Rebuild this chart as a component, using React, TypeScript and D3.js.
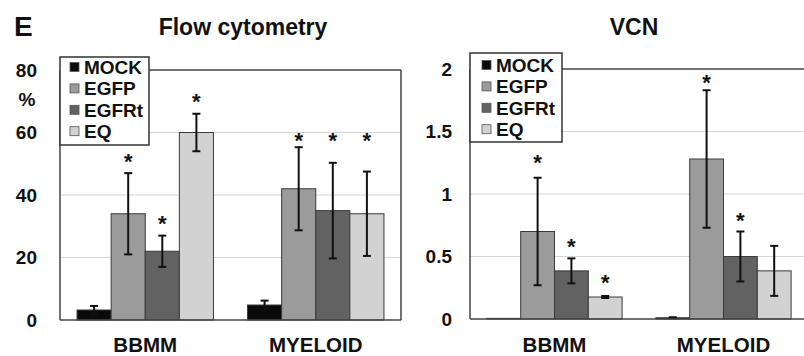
import React from 'react';
import { scaleBand, scaleLinear } from 'd3';

const categories = ['BBMM', 'MYELOID'];
const series = ['MOCK', 'EGFP', 'EGFRt', 'EQ'];
const colors = ['#0a0a0a', '#9b9b9b', '#626262', '#d2d2d2'];

// rows = series, cols = categories
const flowMeans = [[3.2, 4.8], [34, 42], [22, 35], [60, 34]];
const flowErrors = [[1.3, 1.4], [13, 13.3], [5, 15.3], [6, 13.5]];
const flowStars = [[null, null], [52.2, 58.9], [32.6, 58.9], [71.4, 58.9]];
const flowTicks = [0, 20, 40, 60, 80];

const vcnMeans = [[0.005, 0.01], [0.7, 1.28], [0.385, 0.5], [0.176, 0.385]];
const vcnErrors = [[0, 0.004], [0.43, 0.55], [0.1, 0.2], [0.008, 0.2]];
const vcnStars = [[null, null], [1.296, 1.93], [0.618, 0.832], [0.333, null]];
const vcnTicks = [0, 0.5, 1, 1.5, 2];

const font = '"Liberation Sans", Arial, sans-serif';

interface PanelProps {
  title: string
  titleX: number
  x0: number
  x1: number
  yBottom: number
  yTop: number
  domainMax: number
  ticks: number[]
  means: number[][]
  errors: number[][]
  stars: (number | null)[][]
  legendBox: { x: number, y: number, w: number, h: number, swatchX: number, textX: number, row0: number }
  labelGap: number
  rightBorder: boolean
}

const Panel: React.FC<PanelProps> = (p) => {
  const y = scaleLinear().domain([0, p.domainMax]).range([p.yBottom, p.yTop]);
  const x = scaleBand().domain(categories).range([p.x0, p.x1]).padding(0);
  const bw = x.bandwidth();
  const inner = scaleBand().domain(series).range([bw * 0.1, bw * 0.9]).padding(0);
  const lg = p.legendBox;
  const rowH = 21.4;

  return (
    <g>
      {p.ticks.map((t) => (
        <g key={t}>
          {t > 0 && t < p.domainMax && (
            <line x1={p.x0} x2={p.x1} y1={y(t)} y2={y(t)} stroke="#d6d6d6" strokeWidth={1.2} />
          )}
          <text x={p.x0 - p.labelGap} y={y(t)} dy="0.36em" textAnchor="end"
            fontSize={19} fontWeight="bold" fontFamily={font} fill="#111">{t}</text>
        </g>
      ))}
      {/* plot frame */}
      <line x1={p.x0} x2={p.x1} y1={y(p.domainMax)} y2={y(p.domainMax)} stroke="#444" strokeWidth={1.5} />
      <line x1={p.x0} x2={p.x0} y1={y(p.domainMax)} y2={y(0)} stroke="#444" strokeWidth={1.5} />
      {p.rightBorder && <line x1={p.x1} x2={p.x1} y1={y(p.domainMax)} y2={y(0)} stroke="#444" strokeWidth={1.5} />}

      {categories.map((c, ci) => (
        <g key={c} transform={`translate(${x(c)},0)`}>
          {series.map((s, si) => {
            const v = p.means[si][ci];
            const e = p.errors[si][ci];
            const bx = inner(s)!;
            const cx = bx + inner.bandwidth() / 2;
            const star = p.stars[si][ci];
            return (
              <g key={s}>
                <rect x={bx} y={y(v)} width={inner.bandwidth()} height={y(0) - y(v)}
                  fill={colors[si]} stroke="#3a3a3a" strokeWidth={1} />
                {e > 0 && (
                  <g stroke="#111" strokeWidth={2}>
                    <line x1={cx} x2={cx} y1={y(v + e)} y2={y(Math.max(0, v - e))} />
                    <line x1={cx - 4} x2={cx + 4} y1={y(v + e)} y2={y(v + e)} />
                    <line x1={cx - 4} x2={cx + 4} y1={y(Math.max(0, v - e))} y2={y(Math.max(0, v - e))} />
                  </g>
                )}
                {star !== null && (
                  <text x={cx} y={y(star) + 12.5} textAnchor="middle" fontSize={22} fontWeight="bold"
                    fontFamily={font} fill="#111">*</text>
                )}
              </g>
            );
          })}
          <text x={bw / 2} y={352} textAnchor="middle" fontSize={20.5} fontWeight="bold"
            fontFamily={font} fill="#111">{c}</text>
        </g>
      ))}
      <line x1={p.x0} x2={p.x1} y1={y(0)} y2={y(0)} stroke="#444" strokeWidth={1.5} />

      {/* legend */}
      <rect x={lg.x} y={lg.y} width={lg.w} height={lg.h} fill="#fff" stroke="#333" strokeWidth={1.5} />
      {series.map((s, si) => {
        const cy = lg.row0 + si * rowH;
        return (
          <g key={s}>
            <rect x={lg.swatchX} y={cy - 4.5} width={9} height={9} fill={colors[si]} stroke="#555" strokeWidth={0.8} />
            <text x={lg.textX} y={cy} dy="0.36em" fontSize={19} fontWeight="bold" fontFamily={font} fill="#111">{s}</text>
          </g>
        );
      })}

      <text x={p.titleX} y={35} textAnchor="middle" fontSize={23} fontWeight="bold" fontFamily={font} fill="#111">{p.title}</text>
    </g>
  );
};

export default function App() {
  return (
    <svg width={804} height={356} style={{ position: 'absolute', left: 0, top: 0, background: '#fff' }}>
      <rect width={804} height={356} fill="#fff" />
      <text x={14} y={36} fontSize={28} fontWeight="bold" fontFamily={font} fill="#111">E</text>
      <text x={27} y={106} textAnchor="middle" fontSize={19} fontWeight="bold" fontFamily={font} fill="#111">%</text>
      <Panel title="Flow cytometry" titleX={243} x0={60} x1={401} yBottom={320} yTop={70} domainMax={80}
        ticks={flowTicks} means={flowMeans} errors={flowErrors} stars={flowStars}
        legendBox={{ x: 60, y: 57, w: 89, h: 88, swatchX: 70, textX: 84, row0: 67 }}
        labelGap={23} rightBorder={true} />
      <Panel title="VCN" titleX={634} x0={470} x1={808} yBottom={319} yTop={69} domainMax={2}
        ticks={vcnTicks} means={vcnMeans} errors={vcnErrors} stars={vcnStars}
        legendBox={{ x: 470, y: 53, w: 92, h: 89, swatchX: 482, textX: 496, row0: 65 }}
        labelGap={18} rightBorder={false} />
    </svg>
  );
}
